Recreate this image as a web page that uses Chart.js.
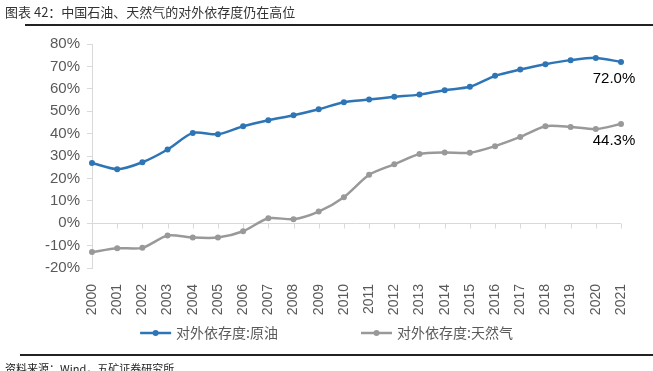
<!DOCTYPE html>
<html>
<head>
<meta charset="utf-8">
<script src="https://cdn.jsdelivr.net/npm/chart.js@4"></script>
<style>
  body { margin: 0; background: #fff; }
  #wrap { position: relative; width: 653px; height: 371px; overflow: hidden; font-family: "Liberation Sans", "Noto Sans CJK SC", sans-serif; }
  #title { position: absolute; left: 5px; top: 2px; font-size: 13px; color: #333; font-family: "Noto Sans CJK SC", sans-serif; }
  .rule { position: absolute; right: 0; height: 2px; background: #222; }
  #source { position: absolute; left: 5px; top: 360px; font-size: 11px; color: #222; font-family: "Noto Sans CJK SC", sans-serif; }
  canvas { position: absolute; left: 0; top: 0; }
</style>
</head>
<body>
<div id="wrap">
  <canvas id="depGraph" width="653" height="371"></canvas>
  <div id="title">图表 42：中国石油、天然气的对外依存度仍在高位</div>
  <div class="rule" style="left:25px; top:24px;"></div>
  <div class="rule" style="left:20px; top:354px;"></div>
  <div id="source">资料来源：Wind，五矿证券研究所</div>
</div>
<script>
// years on the x axis
var years = ['2000', '2001', '2002', '2003', '2004', '2005', '2006', '2007', '2008', '2009', '2010',
             '2011', '2012', '2013', '2014', '2015', '2016', '2017', '2018', '2019', '2020', '2021'];
// 对外依存度 (%)
var oilDep = [26.9, 24.1, 27.2, 32.9, 40.3, 39.7, 43.3, 46.0, 48.2, 50.9, 54.0,
              55.2, 56.4, 57.4, 59.4, 60.9, 65.8, 68.6, 71.0, 72.8, 73.8, 72.0];
var gasDep = [-12.9, -11.2, -11.0, -5.5, -6.4, -6.4, -3.6, 2.2, 1.8, 5.2, 11.6,
              21.6, 26.3, 30.9, 31.6, 31.4, 34.4, 38.5, 43.3, 43.0, 42.0, 44.3];
var seriesNames = ['对外依存度:原油', '对外依存度:天然气'];
var yTicks = [-20, -10, 0, 10, 20, 30, 40, 50, 60, 70, 80];

var blue = '#2e75b6';
var grey = '#999999';
var axisGrey = '#d9d9d9';
var labelGrey = '#595959';

Chart.defaults.font.family = '"Liberation Sans", Arial, "Noto Sans CJK SC", sans-serif';

// zero line with tick marks (the x axis sits at 0%, labels stay at the bottom)
var zeroLine = {
    id: 'zeroLine',
    beforeDatasetsDraw: function (chart) {
        var ctx = chart.ctx, x = chart.scales.x, y = chart.scales.y;
        var y0 = Math.round(y.getPixelForValue(0)) + 0.5;
        ctx.save();
        ctx.strokeStyle = axisGrey;
        ctx.lineWidth = 1;
        ctx.beginPath();
        ctx.moveTo(chart.chartArea.left, y0);
        ctx.lineTo(chart.chartArea.right, y0);
        years.forEach(function (yr, i) {
            var px = Math.round(x.getPixelForValue(i)) + 0.5;
            ctx.moveTo(px, y0);
            ctx.lineTo(px, y0 + 5);
        });
        ctx.stroke();
        ctx.restore();
    }
};

// value label under the last point of each series
var lastLabels = {
    id: 'lastLabels',
    afterDatasetsDraw: function (chart) {
        var ctx = chart.ctx;
        ctx.save();
        ctx.font = '15px "Liberation Sans", Arial, sans-serif';
        ctx.fillStyle = '#000';
        ctx.textAlign = 'center';
        ctx.textBaseline = 'middle';
        chart.data.datasets.forEach(function (ds, i) {
            var meta = chart.getDatasetMeta(i);
            var pt = meta.data[meta.data.length - 1];
            var v = ds.data[ds.data.length - 1];
            ctx.fillText(v.toFixed(1) + '%', pt.x - 7, pt.y + 17);
        });
        ctx.restore();
    }
};

// legend: line with dot, like the office chart
var lineLegend = {
    id: 'lineLegend',
    afterDraw: function (chart) {
        var ctx = chart.ctx;
        var lineW = 31, gapText = 5, gapItem = 83, yMid = 333;
        ctx.save();
        ctx.font = '14px "Noto Sans CJK SC", sans-serif';
        var widths = chart.data.datasets.map(function (ds) {
            return lineW + gapText + ctx.measureText(ds.label).width;
        });
        var total = widths.reduce(function (a, b) { return a + b; }, 0) + gapItem * (widths.length - 1);
        var x = (chart.width - total) / 2;
        chart.data.datasets.forEach(function (ds, i) {
            ctx.strokeStyle = ds.borderColor;
            ctx.lineWidth = 2.5;
            ctx.beginPath();
            ctx.moveTo(x, yMid);
            ctx.lineTo(x + lineW, yMid);
            ctx.stroke();
            ctx.fillStyle = ds.borderColor;
            ctx.beginPath();
            ctx.arc(x + lineW / 2, yMid, 3, 0, Math.PI * 2);
            ctx.fill();
            ctx.fillStyle = labelGrey;
            ctx.textBaseline = 'middle';
            ctx.fillText(ds.label, x + lineW + gapText, yMid);
            x += widths[i] + gapItem;
        });
        ctx.restore();
    }
};

var ctx = document.getElementById('depGraph').getContext('2d');
var depChart = new Chart(ctx, {
    type: 'line',
    data: {
        labels: years,
        datasets: [{
            label: seriesNames[0],
            data: oilDep,
            borderColor: blue,
            backgroundColor: blue,
            borderWidth: 2.5,
            pointRadius: 3,
            pointBorderWidth: 0,
            tension: 0.25
        }, {
            label: seriesNames[1],
            data: gasDep,
            borderColor: grey,
            backgroundColor: grey,
            borderWidth: 2.5,
            pointRadius: 3,
            pointBorderWidth: 0,
            tension: 0.25
        }]
    },
    options: {
        responsive: false,
        animation: false,
        layout: {
            padding: { top: 44, left: 32, right: 32, bottom: 51 }
        },
        plugins: {
            legend: { display: false },
            tooltip: { enabled: false }
        },
        scales: {
            x: {
                grid: { display: false },
                border: { display: false },
                afterFit: function (s) { s.height = 52; },
                ticks: {
                    color: labelGrey,
                    font: { size: 14 },
                    minRotation: 90,
                    maxRotation: 90,
                    autoSkip: false,
                    padding: 8
                }
            },
            y: {
                min: yTicks[0],
                max: yTicks[yTicks.length - 1],
                afterFit: function (s) { s.width = 60; },
                afterBuildTicks: function (s) {
                    s.ticks = yTicks.map(function (v) { return { value: v }; });
                },
                border: { color: axisGrey },
                grid: {
                    drawOnChartArea: false,
                    color: axisGrey,
                    tickLength: 5
                },
                ticks: {
                    color: labelGrey,
                    font: { size: 15 },
                    padding: 7,
                    callback: function (v) { return v + '%'; }
                }
            }
        }
    },
    plugins: [zeroLine, lastLabels, lineLegend]
});
</script>
</body>
</html>
